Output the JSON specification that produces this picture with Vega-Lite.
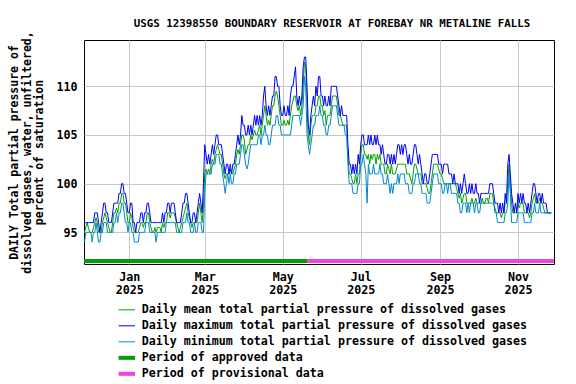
{
"$schema":"https://vega.github.io/schema/vega-lite/v6.json",
"width":470,"height":224,
"autosize":{"type":"none"},
"padding":{"left":84,"top":40,"right":22,"bottom":120},
"background":"white",
"title":{"text":"USGS 12398550 BOUNDARY RESERVOIR AT FOREBAY NR METALINE FALLS","font":"DejaVu Sans Mono","fontSize":10.8,"fontWeight":"bold","color":"black","anchor":"middle","frame":"group","dx":13,"offset":2},
"config":{"view":{"stroke":"black","strokeWidth":1},"font":"DejaVu Sans Mono"},
"datasets":{
"periods":[{"s":"2024-11-26","e":"2025-05-20","k":"ap"},{"s":"2025-05-20","e":"2025-11-30","k":"pr"}],
"daily":[
{"d":"2024-11-27","x":96,"a":95,"n":94},{"d":"2024-11-28","x":96,"a":95.5,"n":95},{"d":"2024-11-29","x":96,"a":96,"n":95},{"d":"2024-11-30","x":96,"a":95.5,"n":95},
{"d":"2024-12-01","x":96,"a":95,"n":95},{"d":"2024-12-02","x":96,"a":95,"n":95},{"d":"2024-12-03","x":96,"a":95,"n":94},{"d":"2024-12-04","x":96,"a":95.5,"n":95},{"d":"2024-12-05","x":97,"a":96,"n":95},{"d":"2024-12-06","x":97,"a":96.5,"n":96},{"d":"2024-12-07","x":97,"a":96,"n":95},{"d":"2024-12-08","x":96,"a":95,"n":94},{"d":"2024-12-09","x":95,"a":95,"n":94},{"d":"2024-12-10","x":96,"a":95,"n":95},{"d":"2024-12-11","x":97,"a":96,"n":95},{"d":"2024-12-12","x":98,"a":96.5,"n":96},{"d":"2024-12-13","x":98,"a":97,"n":96},{"d":"2024-12-14","x":97,"a":96.5,"n":96},{"d":"2024-12-15","x":97,"a":96,"n":95},{"d":"2024-12-16","x":96,"a":95.5,"n":95},{"d":"2024-12-17","x":96,"a":95,"n":95},{"d":"2024-12-18","x":96,"a":95,"n":95},{"d":"2024-12-19","x":97,"a":96,"n":95},{"d":"2024-12-20","x":98,"a":97,"n":96},{"d":"2024-12-21","x":98,"a":97,"n":96},{"d":"2024-12-22","x":98,"a":97.5,"n":97},{"d":"2024-12-23","x":98,"a":97,"n":96},{"d":"2024-12-24","x":99,"a":98,"n":97},{"d":"2024-12-25","x":99,"a":98,"n":97},{"d":"2024-12-26","x":100,"a":99,"n":98},{"d":"2024-12-27","x":100,"a":99,"n":98},{"d":"2024-12-28","x":99,"a":98,"n":97},{"d":"2024-12-29","x":99,"a":98,"n":96},{"d":"2024-12-30","x":98,"a":97,"n":96},{"d":"2024-12-31","x":97,"a":96,"n":95},
{"d":"2025-01-01","x":97,"a":96,"n":96},{"d":"2025-01-02","x":98,"a":97,"n":96},{"d":"2025-01-03","x":98,"a":96.5,"n":95},{"d":"2025-01-04","x":96,"a":95.5,"n":95},{"d":"2025-01-05","x":96,"a":95,"n":94},{"d":"2025-01-06","x":95,"a":95,"n":94},{"d":"2025-01-07","x":96,"a":95,"n":94},{"d":"2025-01-08","x":96,"a":95,"n":94},{"d":"2025-01-09","x":96,"a":95.5,"n":95},{"d":"2025-01-10","x":97,"a":96,"n":95},{"d":"2025-01-11","x":97,"a":96,"n":95},{"d":"2025-01-12","x":96,"a":95.5,"n":95},{"d":"2025-01-13","x":97,"a":96,"n":95},{"d":"2025-01-14","x":97,"a":96,"n":96},{"d":"2025-01-15","x":98,"a":97,"n":96},{"d":"2025-01-16","x":98,"a":97,"n":96},{"d":"2025-01-17","x":97,"a":96,"n":95},{"d":"2025-01-18","x":96,"a":95.5,"n":95},{"d":"2025-01-19","x":96,"a":95,"n":95},{"d":"2025-01-20","x":96,"a":95,"n":95},{"d":"2025-01-21","x":96,"a":95.5,"n":95},{"d":"2025-01-22","x":96,"a":95,"n":94},{"d":"2025-01-23","x":96,"a":95.5,"n":95},{"d":"2025-01-24","x":96,"a":95.5,"n":95},{"d":"2025-01-25","x":96,"a":95.5,"n":95},{"d":"2025-01-26","x":96,"a":95,"n":95},{"d":"2025-01-27","x":97,"a":96,"n":95},{"d":"2025-01-28","x":96,"a":95.5,"n":95},{"d":"2025-01-29","x":97,"a":96,"n":95},{"d":"2025-01-30","x":97,"a":96,"n":96},{"d":"2025-01-31","x":98,"a":97,"n":96},
{"d":"2025-02-01","x":98,"a":97,"n":96},{"d":"2025-02-02","x":97,"a":96.5,"n":96},{"d":"2025-02-03","x":98,"a":97,"n":96},{"d":"2025-02-04","x":98,"a":97,"n":96},{"d":"2025-02-05","x":98,"a":97,"n":96},{"d":"2025-02-06","x":97,"a":96.5,"n":96},{"d":"2025-02-07","x":96,"a":96,"n":95},{"d":"2025-02-08","x":96,"a":95.5,"n":95},{"d":"2025-02-09","x":96,"a":95,"n":95},{"d":"2025-02-10","x":96,"a":95.5,"n":95},{"d":"2025-02-11","x":97,"a":96,"n":95},{"d":"2025-02-12","x":98,"a":96.5,"n":96},{"d":"2025-02-13","x":98,"a":97,"n":96},{"d":"2025-02-14","x":99,"a":97.5,"n":96},{"d":"2025-02-15","x":99,"a":98,"n":97},{"d":"2025-02-16","x":98,"a":97,"n":96},{"d":"2025-02-17","x":97,"a":96.5,"n":96},{"d":"2025-02-18","x":96,"a":96,"n":95},{"d":"2025-02-19","x":96,"a":95.5,"n":95},{"d":"2025-02-20","x":97,"a":96,"n":95},{"d":"2025-02-21","x":97,"a":96,"n":96},{"d":"2025-02-22","x":96,"a":96,"n":95},{"d":"2025-02-23","x":97,"a":96,"n":95},{"d":"2025-02-24","x":98,"a":97,"n":96},{"d":"2025-02-25","x":99,"a":98,"n":96},{"d":"2025-02-26","x":98,"a":97,"n":96},{"d":"2025-02-27","x":97,"a":96,"n":95},{"d":"2025-02-28","x":100,"a":97.5,"n":95},
{"d":"2025-03-01","x":104,"a":101,"n":99},{"d":"2025-03-02","x":103,"a":101.5,"n":101},{"d":"2025-03-03","x":102,"a":101,"n":101},{"d":"2025-03-04","x":103,"a":101.5,"n":101},{"d":"2025-03-05","x":102,"a":101,"n":101},{"d":"2025-03-06","x":103,"a":102,"n":101},{"d":"2025-03-07","x":104,"a":102.5,"n":102},{"d":"2025-03-08","x":103,"a":102,"n":102},{"d":"2025-03-09","x":104,"a":103,"n":102},{"d":"2025-03-10","x":105,"a":103.5,"n":103},{"d":"2025-03-11","x":105,"a":104,"n":103},{"d":"2025-03-12","x":104,"a":103.5,"n":103},{"d":"2025-03-13","x":104,"a":103,"n":102},{"d":"2025-03-14","x":104,"a":103,"n":102},{"d":"2025-03-15","x":103,"a":102,"n":101},{"d":"2025-03-16","x":102,"a":101,"n":100},{"d":"2025-03-17","x":101,"a":100.5,"n":99},{"d":"2025-03-18","x":102,"a":101,"n":100},{"d":"2025-03-19","x":102,"a":101,"n":101},{"d":"2025-03-20","x":101,"a":101,"n":100},{"d":"2025-03-21","x":102,"a":101.5,"n":101},{"d":"2025-03-22","x":101,"a":101,"n":100},{"d":"2025-03-23","x":102,"a":101,"n":100},{"d":"2025-03-24","x":102,"a":101.5,"n":101},{"d":"2025-03-25","x":103,"a":102,"n":101},{"d":"2025-03-26","x":104,"a":103,"n":102},{"d":"2025-03-27","x":105,"a":103.5,"n":102},{"d":"2025-03-28","x":104,"a":103,"n":102},{"d":"2025-03-29","x":105,"a":104,"n":103},{"d":"2025-03-30","x":107,"a":105,"n":104},{"d":"2025-03-31","x":106,"a":105,"n":104},
{"d":"2025-04-01","x":106,"a":104.5,"n":103},{"d":"2025-04-02","x":105,"a":103,"n":102},{"d":"2025-04-03","x":105,"a":103.5,"n":101.5},{"d":"2025-04-04","x":106,"a":104,"n":102},{"d":"2025-04-05","x":105,"a":104,"n":103},{"d":"2025-04-06","x":106,"a":105,"n":104},{"d":"2025-04-07","x":105,"a":104.5,"n":104},{"d":"2025-04-08","x":106,"a":105,"n":104},{"d":"2025-04-09","x":107,"a":105.5,"n":104},{"d":"2025-04-10","x":106,"a":105,"n":104},{"d":"2025-04-11","x":107,"a":105,"n":104},{"d":"2025-04-12","x":106,"a":105.5,"n":105},{"d":"2025-04-13","x":107,"a":106,"n":105},{"d":"2025-04-14","x":106,"a":105,"n":104},{"d":"2025-04-15","x":107,"a":106,"n":105},{"d":"2025-04-16","x":109,"a":107,"n":105},{"d":"2025-04-17","x":110,"a":108,"n":106},{"d":"2025-04-18","x":108,"a":107,"n":105},{"d":"2025-04-19","x":107,"a":106,"n":105},{"d":"2025-04-20","x":108,"a":106.5,"n":104},{"d":"2025-04-21","x":107,"a":106,"n":104},{"d":"2025-04-22","x":108,"a":107,"n":105},{"d":"2025-04-23","x":109,"a":108,"n":106},{"d":"2025-04-24","x":109,"a":108,"n":106},{"d":"2025-04-25","x":111,"a":109,"n":106},{"d":"2025-04-26","x":111,"a":109.5,"n":107},{"d":"2025-04-27","x":110,"a":109,"n":107},{"d":"2025-04-28","x":110,"a":108,"n":106},{"d":"2025-04-29","x":108,"a":107,"n":106},{"d":"2025-04-30","x":107,"a":106,"n":105},
{"d":"2025-05-01","x":107,"a":106,"n":105},{"d":"2025-05-02","x":108,"a":106.5,"n":105},{"d":"2025-05-03","x":107,"a":106,"n":105},{"d":"2025-05-04","x":107,"a":106,"n":105},{"d":"2025-05-05","x":108,"a":106.5,"n":105},{"d":"2025-05-06","x":107,"a":106,"n":105},{"d":"2025-05-07","x":109,"a":107,"n":105},{"d":"2025-05-08","x":110,"a":108,"n":106},{"d":"2025-05-09","x":110,"a":108.5,"n":107},{"d":"2025-05-10","x":111,"a":109,"n":107},{"d":"2025-05-11","x":112,"a":109,"n":107},{"d":"2025-05-12","x":109,"a":108,"n":107},{"d":"2025-05-13","x":108,"a":107.5,"n":107},{"d":"2025-05-14","x":109,"a":108,"n":107},{"d":"2025-05-15","x":108,"a":107,"n":106},{"d":"2025-05-16","x":109,"a":108,"n":107},{"d":"2025-05-17","x":112,"a":110,"n":108},{"d":"2025-05-18","x":113,"a":112.5,"n":111},{"d":"2025-05-19","x":113,"a":112,"n":110},{"d":"2025-05-20","x":110,"a":108,"n":105},{"d":"2025-05-21","x":106,"a":105,"n":104},{"d":"2025-05-22","x":105,"a":104,"n":103},{"d":"2025-05-23","x":107,"a":106,"n":104},{"d":"2025-05-24","x":108,"a":107,"n":105},{"d":"2025-05-25","x":109,"a":107,"n":106},{"d":"2025-05-26","x":108,"a":107,"n":106},{"d":"2025-05-27","x":110,"a":108,"n":107},{"d":"2025-05-28","x":109,"a":108,"n":107},{"d":"2025-05-29","x":111,"a":109,"n":107},{"d":"2025-05-30","x":111,"a":109,"n":108},{"d":"2025-05-31","x":109,"a":108,"n":107},
{"d":"2025-06-01","x":109,"a":108,"n":107},{"d":"2025-06-02","x":108,"a":107,"n":106},{"d":"2025-06-03","x":109,"a":107.5,"n":106},{"d":"2025-06-04","x":108,"a":106,"n":105},{"d":"2025-06-05","x":108,"a":107,"n":105},{"d":"2025-06-06","x":109,"a":107,"n":106},{"d":"2025-06-07","x":108,"a":107,"n":106},{"d":"2025-06-08","x":110,"a":108,"n":107},{"d":"2025-06-09","x":110,"a":109,"n":108},{"d":"2025-06-10","x":110,"a":109,"n":108},{"d":"2025-06-11","x":110,"a":109,"n":108},{"d":"2025-06-12","x":110,"a":109,"n":108},{"d":"2025-06-13","x":109,"a":108,"n":107},{"d":"2025-06-14","x":108,"a":107,"n":106},{"d":"2025-06-15","x":107,"a":107,"n":106},{"d":"2025-06-16","x":108,"a":106.5,"n":106},{"d":"2025-06-17","x":107,"a":106,"n":106},{"d":"2025-06-18","x":107,"a":106,"n":106},{"d":"2025-06-19","x":107,"a":106,"n":105},{"d":"2025-06-20","x":107,"a":106,"n":105},{"d":"2025-06-21","x":104,"a":103,"n":102},{"d":"2025-06-22","x":102,"a":101,"n":100},{"d":"2025-06-23","x":102,"a":101,"n":100},{"d":"2025-06-24","x":101,"a":100.5,"n":100},{"d":"2025-06-25","x":102,"a":100,"n":99},{"d":"2025-06-26","x":101,"a":100,"n":99},{"d":"2025-06-27","x":102,"a":101,"n":99},{"d":"2025-06-28","x":101,"a":100,"n":99},{"d":"2025-06-29","x":103,"a":101,"n":100},{"d":"2025-06-30","x":102,"a":101,"n":100},
{"d":"2025-07-01","x":104,"a":103,"n":102},{"d":"2025-07-02","x":105,"a":104,"n":102},{"d":"2025-07-03","x":105,"a":104,"n":103},{"d":"2025-07-04","x":104,"a":103,"n":102},{"d":"2025-07-05","x":104,"a":103,"n":101},{"d":"2025-07-06","x":104,"a":102.5,"n":98},{"d":"2025-07-07","x":105,"a":103,"n":102},{"d":"2025-07-08","x":104,"a":102,"n":101},{"d":"2025-07-09","x":105,"a":103,"n":101},{"d":"2025-07-10","x":104,"a":102.5,"n":101},{"d":"2025-07-11","x":104,"a":103,"n":102},{"d":"2025-07-12","x":105,"a":103,"n":101},{"d":"2025-07-13","x":104,"a":102,"n":101},{"d":"2025-07-14","x":105,"a":103,"n":101},{"d":"2025-07-15","x":104,"a":102.5,"n":101},{"d":"2025-07-16","x":104,"a":103,"n":102},{"d":"2025-07-17","x":103,"a":102,"n":101},{"d":"2025-07-18","x":104,"a":102,"n":101},{"d":"2025-07-19","x":103,"a":102,"n":100},{"d":"2025-07-20","x":102,"a":101,"n":100},{"d":"2025-07-21","x":102,"a":101,"n":100},{"d":"2025-07-22","x":103,"a":102,"n":101},{"d":"2025-07-23","x":103,"a":101.5,"n":100},{"d":"2025-07-24","x":102,"a":101,"n":99},{"d":"2025-07-25","x":103,"a":102,"n":100},{"d":"2025-07-26","x":102,"a":101,"n":99},{"d":"2025-07-27","x":103,"a":101,"n":100},{"d":"2025-07-28","x":102,"a":101,"n":100},{"d":"2025-07-29","x":103,"a":101.5,"n":100},{"d":"2025-07-30","x":104,"a":102,"n":101},{"d":"2025-07-31","x":104,"a":102,"n":100},
{"d":"2025-08-01","x":103,"a":102,"n":101},{"d":"2025-08-02","x":104,"a":102,"n":101},{"d":"2025-08-03","x":103,"a":102,"n":101},{"d":"2025-08-04","x":104,"a":102,"n":101},{"d":"2025-08-05","x":104,"a":102,"n":100},{"d":"2025-08-06","x":103,"a":101,"n":100},{"d":"2025-08-07","x":102,"a":101,"n":100},{"d":"2025-08-08","x":103,"a":101,"n":99},{"d":"2025-08-09","x":102,"a":100.5,"n":99},{"d":"2025-08-10","x":102,"a":100,"n":99},{"d":"2025-08-11","x":103,"a":101,"n":100},{"d":"2025-08-12","x":104,"a":102,"n":100},{"d":"2025-08-13","x":104,"a":102,"n":101},{"d":"2025-08-14","x":103,"a":101.5,"n":101},{"d":"2025-08-15","x":102,"a":101,"n":101},{"d":"2025-08-16","x":103,"a":101,"n":100},{"d":"2025-08-17","x":102,"a":101,"n":100},{"d":"2025-08-18","x":101,"a":100,"n":99},{"d":"2025-08-19","x":100,"a":100,"n":99},{"d":"2025-08-20","x":101,"a":100,"n":99},{"d":"2025-08-21","x":101,"a":100,"n":99},{"d":"2025-08-22","x":100,"a":99.5,"n":98},{"d":"2025-08-23","x":100,"a":99,"n":98},{"d":"2025-08-24","x":101,"a":99,"n":98},{"d":"2025-08-25","x":102,"a":100,"n":99},{"d":"2025-08-26","x":103,"a":101,"n":100},{"d":"2025-08-27","x":103,"a":102,"n":101},{"d":"2025-08-28","x":103,"a":102,"n":101},{"d":"2025-08-29","x":103,"a":102,"n":101},{"d":"2025-08-30","x":103,"a":102,"n":101},{"d":"2025-08-31","x":102,"a":101.5,"n":100},
{"d":"2025-09-01","x":102,"a":101,"n":100},{"d":"2025-09-02","x":102,"a":101,"n":100},{"d":"2025-09-03","x":101,"a":100.5,"n":99},{"d":"2025-09-04","x":102,"a":100,"n":99},{"d":"2025-09-05","x":102,"a":100,"n":100},{"d":"2025-09-06","x":102,"a":100,"n":100},{"d":"2025-09-07","x":102,"a":100,"n":99},{"d":"2025-09-08","x":101,"a":100,"n":100},{"d":"2025-09-09","x":101,"a":100,"n":100},{"d":"2025-09-10","x":101,"a":100,"n":99},{"d":"2025-09-11","x":100,"a":100,"n":99},{"d":"2025-09-12","x":101,"a":100,"n":99},{"d":"2025-09-13","x":100,"a":100,"n":99},{"d":"2025-09-14","x":100,"a":99.5,"n":99},{"d":"2025-09-15","x":100,"a":99,"n":98},{"d":"2025-09-16","x":99,"a":98.5,"n":98},{"d":"2025-09-17","x":100,"a":99,"n":97},{"d":"2025-09-18","x":99,"a":98,"n":97},{"d":"2025-09-19","x":100,"a":98.5,"n":98},{"d":"2025-09-20","x":101,"a":99,"n":98},{"d":"2025-09-21","x":100,"a":99,"n":98},{"d":"2025-09-22","x":99,"a":98,"n":97},{"d":"2025-09-23","x":99,"a":98,"n":98},{"d":"2025-09-24","x":100,"a":98,"n":97},{"d":"2025-09-25","x":99,"a":98,"n":98},{"d":"2025-09-26","x":100,"a":98.5,"n":98},{"d":"2025-09-27","x":99,"a":98,"n":98},{"d":"2025-09-28","x":99,"a":98,"n":97},{"d":"2025-09-29","x":100,"a":98.5,"n":98},{"d":"2025-09-30","x":99,"a":98,"n":98},
{"d":"2025-10-01","x":99,"a":98,"n":97},{"d":"2025-10-02","x":98,"a":98,"n":97},{"d":"2025-10-03","x":99,"a":98,"n":98},{"d":"2025-10-04","x":99,"a":98.5,"n":98},{"d":"2025-10-05","x":99,"a":98,"n":98},{"d":"2025-10-06","x":99,"a":98,"n":98},{"d":"2025-10-07","x":99,"a":98.5,"n":98},{"d":"2025-10-08","x":99,"a":98.5,"n":98},{"d":"2025-10-09","x":99,"a":98,"n":98},{"d":"2025-10-10","x":100,"a":99,"n":98},{"d":"2025-10-11","x":100,"a":99,"n":98},{"d":"2025-10-12","x":100,"a":99,"n":98},{"d":"2025-10-13","x":99,"a":98,"n":98},{"d":"2025-10-14","x":98,"a":97.5,"n":97},{"d":"2025-10-15","x":98,"a":97,"n":97},{"d":"2025-10-16","x":98,"a":97,"n":96},{"d":"2025-10-17","x":97,"a":97,"n":96},{"d":"2025-10-18","x":98,"a":97,"n":96},{"d":"2025-10-19","x":97,"a":96.5,"n":96},{"d":"2025-10-20","x":98,"a":97,"n":96},{"d":"2025-10-21","x":97,"a":97,"n":96},{"d":"2025-10-22","x":99,"a":98,"n":97},{"d":"2025-10-23","x":98,"a":98,"n":97},{"d":"2025-10-24","x":102,"a":100,"n":98},{"d":"2025-10-25","x":103,"a":102,"n":101},{"d":"2025-10-26","x":101,"a":100,"n":99},{"d":"2025-10-27","x":99,"a":98,"n":96},{"d":"2025-10-28","x":98,"a":97,"n":96},{"d":"2025-10-29","x":97,"a":97,"n":96},{"d":"2025-10-30","x":98,"a":97,"n":96},{"d":"2025-10-31","x":97,"a":97,"n":96},
{"d":"2025-11-01","x":99,"a":98,"n":97},{"d":"2025-11-02","x":98,"a":97.5,"n":97},{"d":"2025-11-03","x":99,"a":98,"n":97},{"d":"2025-11-04","x":98,"a":98,"n":97},{"d":"2025-11-05","x":99,"a":98,"n":97},{"d":"2025-11-06","x":98,"a":97,"n":96},{"d":"2025-11-07","x":98,"a":97,"n":96},{"d":"2025-11-08","x":97,"a":97,"n":96},{"d":"2025-11-09","x":98,"a":97,"n":96},{"d":"2025-11-10","x":97,"a":96.5,"n":96},{"d":"2025-11-11","x":98,"a":97,"n":96},{"d":"2025-11-12","x":99,"a":98,"n":97},{"d":"2025-11-13","x":100,"a":98.5,"n":97},{"d":"2025-11-14","x":100,"a":99,"n":98},{"d":"2025-11-15","x":99,"a":98,"n":97},{"d":"2025-11-16","x":98,"a":98,"n":97},{"d":"2025-11-17","x":99,"a":98,"n":97},{"d":"2025-11-18","x":99,"a":98.5,"n":98},{"d":"2025-11-19","x":98,"a":98,"n":97},{"d":"2025-11-20","x":99,"a":98,"n":97},{"d":"2025-11-21","x":98,"a":97.5,"n":97},{"d":"2025-11-22","x":98,"a":97,"n":97},{"d":"2025-11-23","x":98,"a":97,"n":97},{"d":"2025-11-24","x":97,"a":97,"n":97},{"d":"2025-11-25","x":97,"a":97,"n":97},{"d":"2025-11-26","x":97,"a":97,"n":97},{"d":"2025-11-27","x":97,"a":97,"n":97}
]},
"layer":[
{"data":{"name":"daily"},
"transform":[{"fold":["a","x","n"],"as":["k","v"]}],
"mark":{"type":"line","strokeWidth":1,"clip":true},
"encoding":{
"x":{"field":"d","type":"temporal",
"scale":{"type":"utc","domain":[{"year":2024,"month":11,"date":26,"hours":14,"utc":true},{"year":2025,"month":11,"date":29,"hours":4,"utc":true}]},
"axis":{"title":null,"values":[{"year":2025,"month":1,"date":1,"utc":true},{"year":2025,"month":3,"date":1,"utc":true},{"year":2025,"month":5,"date":1,"utc":true},{"year":2025,"month":7,"date":1,"utc":true},{"year":2025,"month":9,"date":1,"utc":true},{"year":2025,"month":11,"date":1,"utc":true}],
"labelExpr":"[utcFormat(datum.value,'%b'),utcFormat(datum.value,'%Y')]",
"ticks":false,"domain":false,"grid":true,"gridColor":"#c8c8c8","gridWidth":1,
"labelFont":"DejaVu Sans Mono","labelFontSize":11.7,"labelFontWeight":"bold","labelColor":"black","labelPadding":7,"labelLineHeight":13.5,"labelFlush":false,"labelOverlap":false}},
"y":{"field":"v","type":"quantitative",
"scale":{"domain":[91.75,114.75],"nice":false,"zero":false},
"axis":{"title":["DAILY Total partial pressure of","dissolved gases, water, unfiltered,","percent of saturation"],
"values":[95,100,105,110],"ticks":false,"domain":false,"grid":true,"gridColor":"#c8c8c8","gridWidth":1,
"labelFont":"DejaVu Sans Mono","labelFontSize":11.7,"labelFontWeight":"bold","labelColor":"black","labelPadding":7,
"titleFont":"DejaVu Sans Mono","titleFontSize":11.5,"titleFontWeight":"bold","titleColor":"black","titleLineHeight":12.5,"titlePadding":11}},
"color":{"field":"k","type":"nominal",
"scale":{"domain":["a","x","n","ap","pr"],"range":["#00a000","#0000ff","#0088cc","#00a000","#f044dc"]},
"legend":{"orient":"none","legendX":37,"legendY":264,"direction":"vertical","title":null,"padding":0,
"symbolType":"stroke","symbolSize":270,"symbolStrokeWidth":1,"rowPadding":-1,"gridAlign":"all",
"labelFont":"DejaVu Sans Mono","labelFontSize":11.65,"labelFontWeight":"bold","labelColor":"black","labelOffset":9,"labelLimit":500,
"labelExpr":"datum.value=='a'?'Daily mean total partial pressure of dissolved gases':datum.value=='x'?'Daily maximum total partial pressure of dissolved gases':datum.value=='n'?'Daily minimum total partial pressure of dissolved gases':datum.value=='ap'?'Period of approved data':'Period of provisional data'",
"encode":{"symbols":{"update":{"strokeWidth":{"signal":"datum.value=='ap'||datum.value=='pr'?4:1"}}}}}}
}},
{"data":{"name":"periods"},
"mark":{"type":"rule","strokeWidth":4,"clip":true},
"encoding":{"x":{"field":"s","type":"temporal"},"x2":{"field":"e"},"y":{"datum":92.05},"color":{"field":"k","type":"nominal"}}}
]
}
